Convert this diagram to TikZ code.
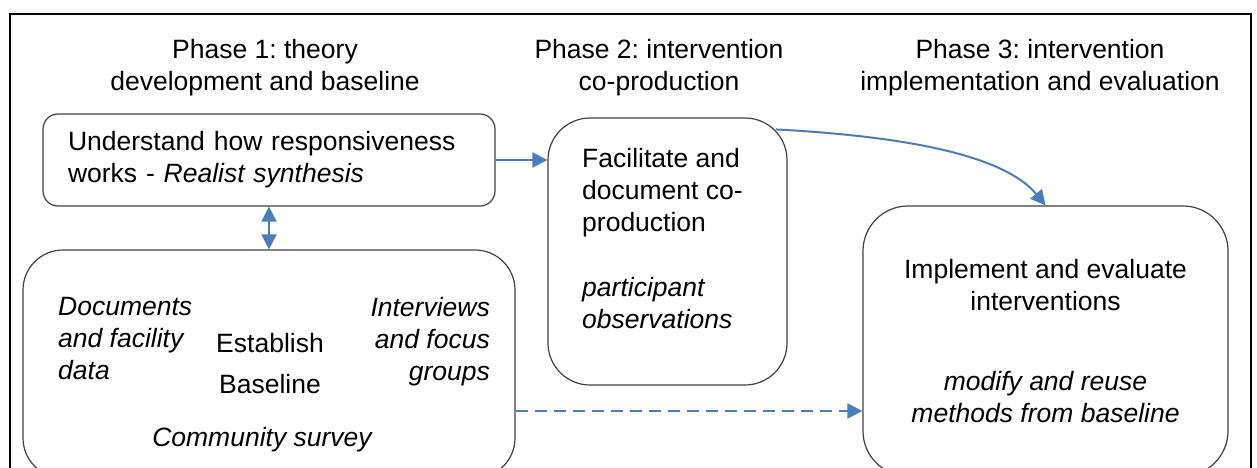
\documentclass[tikz,border=0pt]{standalone}
\usepackage{fontspec}
\setmainfont{Liberation Sans}
\usetikzlibrary{arrows.meta}
\definecolor{flowblue}{RGB}{74,126,187}
\newcommand\bodyfont{\fontsize{26.5}{32}\selectfont}
\frenchspacing

\begin{document}
\begin{tikzpicture}[x=1pt, y=-1pt,
  every node/.style={inner sep=0pt, font=\bodyfont},
  stagebox/.style={draw=black!75, line width=1.2pt, rounded corners=#1},
  flow/.style={draw=flowblue, line width=2pt, -{Triangle[length=15pt,width=15pt]}}]
  \useasboundingbox (0,0) rectangle (1257,468);
  \clip (0,0) rectangle (1257,468);
  \draw[line width=2.5pt] (10,14) rectangle (1251,500);
  \foreach \i/\x/\t in {
    1/265/{Phase 1: theory\\development and baseline},
    2/659/{Phase 2: intervention\\co-production},
    3/1040/{Phase 3: intervention\\implementation and evaluation}} {
    \node[align=center] (phase\i) at (\x,68) {\t};
  }
  \node[stagebox=15pt, minimum width=452pt, minimum height=92pt, text width=402pt, align=left]
    (understand) at (269,160) {Understand how responsiveness\\works - \textit{Realist synthesis}};
  \node[stagebox=42pt, minimum width=239pt, minimum height=267pt] (coprod) at (667.5,251.5) {};
  \node[anchor=north west, align=left] (coprodtext) at (582,148)
    {Facilitate and\\document co-\\production\\[33pt]\textit{participant}\\\textit{observations}};
  \node[stagebox=40pt, minimum width=492pt, minimum height=228pt] (baseline) at (269,364) {};
  \node[anchor=north west, align=left, font=\bodyfont\itshape] (docs) at (58,297)
    {Documents\\and facility\\data};
  \node[anchor=north east, align=right, font=\bodyfont\itshape] (interviews) at (490,297)
    {Interviews\\and focus\\groups};
  \node[align=center] (establish) at (270,364) {Establish\\[9pt]Baseline};
  \node[font=\bodyfont\itshape] (survey) at (262,440) {Community survey};
  \node[stagebox=45pt, minimum width=365pt, minimum height=270pt, align=center]
    (implement) at (1045.5,341)
    {Implement and evaluate\\interventions\\[48pt]\textit{modify and reuse}\\\textit{methods from baseline}};

  \draw[flow] (understand.east) -- (understand.east -| coprod.west);
  \draw[flow, {Triangle[length=15pt,width=15pt]}-{Triangle[length=15pt,width=15pt]}]
    (understand.south) -- (baseline.north);
  \coordinate (coprodcorner) at ([xshift=-12pt,yshift=-12pt]coprod.north east);
  \draw[flow] (coprodcorner) .. controls (880,135) and (1000,150) .. (implement.north);
  \coordinate (baselineout) at ([yshift=-47pt]baseline.east);
  \draw[flow, dash pattern=on 12pt off 7pt] (baselineout) -- (baselineout -| implement.west);
\end{tikzpicture}
\end{document}
